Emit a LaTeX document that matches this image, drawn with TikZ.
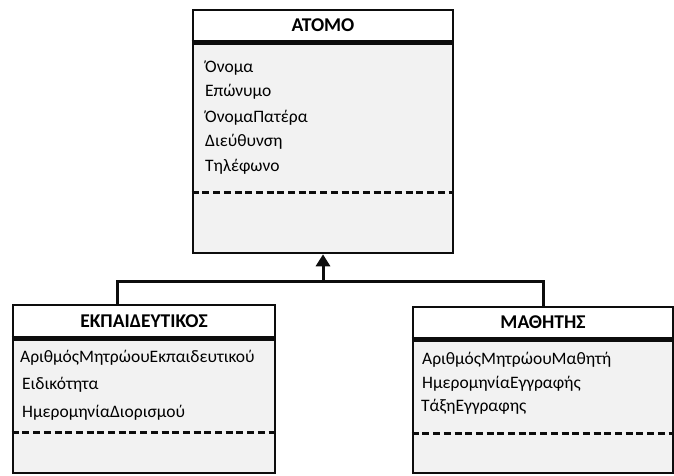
\documentclass[tikz,border=0pt]{standalone}
\usepackage{fontspec}
\setmainfont{Carlito}
\usetikzlibrary{arrows.meta}

\definecolor{bodygray}{HTML}{F2F2F2}
\definecolor{linegray}{HTML}{0D0D0D}

\tikzset{
  classhead/.style={draw=linegray, line width=2.6pt, fill=white, inner sep=0pt,
    font=\fontsize{19.5}{22}\selectfont\bfseries},
  classbody/.style={draw=linegray, line width=2.6pt, fill=bodygray, inner sep=0pt},
  attr/.style={anchor=base west, inner sep=0pt, font=\fontsize{17.5}{20}\selectfont},
  sepline/.style={linegray, line width=5pt},
  opsline/.style={linegray, line width=3pt, dash pattern=on 7pt off 3.7pt},
  link/.style={linegray, line width=3pt}
}

\begin{document}
\begin{tikzpicture}[x=1pt, y=1pt]
    \useasboundingbox (0,0) rectangle (674,475);
    % superclass
    \node[classbody, minimum width=260, minimum height=212] (atomoBody) at (323,328){};
    \node[classhead, minimum width=260, minimum height=31] (atomoHead) at (323,449.5){ATOMO};
    \draw[sepline] (atomoHead.south west)--(atomoHead.south east);
    \node[attr] (onoma) at (205,402){Όνομα};
    \node[attr] (eponymo) at (205,378){Επώνυμο};
    \node[attr] (patronymo) at (205,353){ΌνομαΠατέρα};
    \node[attr] (dieythynsi) at (205,329){Διεύθυνση};
    \node[attr] (tilefono) at (205,304){Τηλέφωνο};
    \draw[opsline] (atomoBody.west |- 0,283)--(atomoBody.east |- 0,283);
    % teacher
    \node[classbody, minimum width=262, minimum height=136] (ekpBody) at (144,70){};
    \node[classhead, minimum width=262, minimum height=32] (ekpHead) at (144,154){ΕΚΠΑΙΔΕΥΤΙΚΟΣ};
    \draw[sepline] (ekpHead.south west)--(ekpHead.south east);
    \node[attr] (amEkp) at (20,113){ΑριθμόςΜητρώουΕκπαιδευτικού};
    \node[attr] (eidikotita) at (22,86){Ειδικότητα};
    \node[attr] (diorismos) at (22,58){ΗμερομηνίαΔιορισμού};
    \draw[opsline] (ekpBody.west |- 0,43)--(ekpBody.east |- 0,43);
    % student
    \node[classbody, minimum width=260, minimum height=135] (mathBody) at (543,69.5){};
    \node[classhead, minimum width=260, minimum height=31] (mathHead) at (543,152.5){ΜΑΘΗΤΗΣ};
    \draw[sepline] (mathHead.south west)--(mathHead.south east);
    \node[attr] (amMath) at (422,111){ΑριθμόςΜητρώουΜαθητή};
    \node[attr] (eggrafi) at (422,87){ΗμερομηνίαΕγγραφής};
    \node[attr] (taxi) at (421,64){ΤάξηΕγγραφης};
    \draw[opsline] (mathBody.west |- 0,42)--(mathBody.east |- 0,42);
    % inheritance
    \coordinate (joinL) at (117,194);
    \coordinate (joinR) at (543,194);
    \draw[link, line join=miter] (ekpHead.north -| joinL)--(joinL)--(joinR)--(mathHead.north);
    \draw[link, -{Triangle[length=12pt, width=14pt]}] (atomoBody.south |- joinL)--(atomoBody.south);
\end{tikzpicture}
\end{document}
